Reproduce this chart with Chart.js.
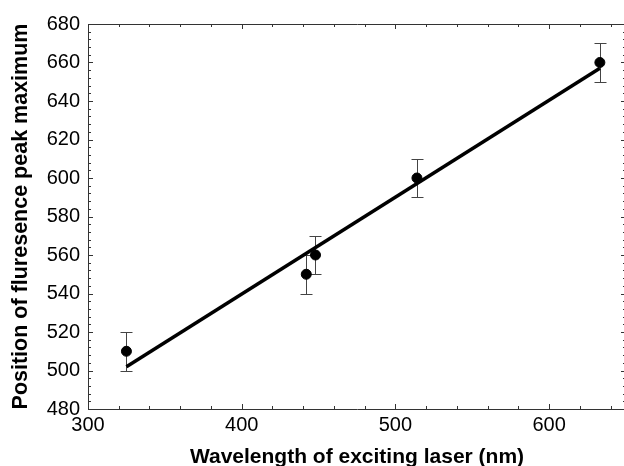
<!DOCTYPE html>
<html>
<head>
<meta charset="utf-8">
<script src="https://cdn.jsdelivr.net/npm/chart.js@4.4.1/dist/chart.umd.min.js"></script>
<style>
html,body{margin:0;padding:0;background:#fff;overflow:hidden;}
#wrap{width:640px;height:466px;}
</style>
</head>
<body>
<div id="wrap"><canvas id="c" width="640" height="466"></canvas></div>
<script>
// ---- data ----
const laserWavelength = [325, 442, 448, 514, 633];
const peakPosition    = [510, 550, 560, 600, 660];
const peakError       = [10, 10, 10, 10, 10];
const fitWavelength   = [325, 633];
const fitPeak         = [502, 657];
const xTickLabels     = [300, 400, 500, 600];
const yTickLabels     = [480, 500, 520, 540, 560, 580, 600, 620, 640, 660, 680];
const xMinorStep = 20;
const yMinorStep = 4;

const FONT = "'Liberation Sans', Arial, sans-serif";

const framePlugin = {
  id: 'frame',
  beforeDatasetsDraw(chart) {
    const {ctx, chartArea: a, scales: {x, y}} = chart;
    ctx.save();
    ctx.strokeStyle = '#333';
    ctx.lineWidth = 1;
    ctx.beginPath();
    ctx.rect(Math.round(a.left) + 0.5, Math.round(a.top) + 0.5, Math.round(a.right - a.left), Math.round(a.bottom - a.top));
    ctx.stroke();
    ctx.beginPath();
    for (let v = x.min; v <= x.max + 1e-9; v += xMinorStep) {
      const px = Math.round(x.getPixelForValue(v)) + 0.5;
      const len = (v % 100 === 0) ? 5 : 3;
      ctx.moveTo(px, a.bottom); ctx.lineTo(px, a.bottom - len);
      ctx.moveTo(px, a.top); ctx.lineTo(px, a.top + len);
    }
    for (let v = y.min; v <= y.max + 1e-9; v += yMinorStep) {
      const py = Math.round(y.getPixelForValue(v)) + 0.5;
      const len = (v % 20 === 0) ? 5 : 3;
      ctx.moveTo(a.left, py); ctx.lineTo(a.left + len, py);
      ctx.moveTo(a.right, py); ctx.lineTo(a.right - len, py);
    }
    ctx.stroke();
    // error bars
    ctx.strokeStyle = '#444';
    ctx.lineWidth = 1;
    ctx.beginPath();
    laserWavelength.forEach((w, i) => {
      const px = Math.round(x.getPixelForValue(w)) + 0.5;
      const yt = Math.round(y.getPixelForValue(peakPosition[i] + peakError[i])) + 0.5;
      const yb = Math.round(y.getPixelForValue(peakPosition[i] - peakError[i])) + 0.5;
      ctx.moveTo(px, yt); ctx.lineTo(px, yb);
      ctx.moveTo(px - 6, yt); ctx.lineTo(px + 6, yt);
      ctx.moveTo(px - 6, yb); ctx.lineTo(px + 6, yb);
    });
    ctx.stroke();
    ctx.restore();
  }
};

new Chart(document.getElementById('c'), {
  type: 'scatter',
  data: {
    datasets: [
      {
        label: 'fit',
        type: 'line',
        data: fitWavelength.map((w, i) => ({x: w, y: fitPeak[i]})),
        borderColor: '#000',
        borderWidth: 3.5,
        pointRadius: 0,
        fill: false,
        order: 2
      },
      {
        label: 'peak',
        data: laserWavelength.map((w, i) => ({x: w, y: peakPosition[i]})),
        backgroundColor: '#000',
        borderColor: '#000',
        pointRadius: 5,
        order: 1
      }
    ]
  },
  options: {
    responsive: false,
    devicePixelRatio: 1,
    animation: false,
    layout: {padding: {left: 0, right: 14, top: 24, bottom: 0}},
    plugins: {legend: {display: false}, tooltip: {enabled: false}},
    scales: {
      x: {
        type: 'linear', min: 300, max: 650,
        grid: {display: false, drawTicks: false}, border: {display: false},
        afterBuildTicks: s => { s.ticks = xTickLabels.map(v => ({value: v})); },
        afterFit: s => { s.height = 57; },
        ticks: {padding: 4, color: '#000', maxRotation: 0, autoSkip: false, font: {family: FONT, size: 20}},
        title: {display: true, text: 'Wavelength of exciting laser (nm)', color: '#000',
                font: {family: FONT, size: 21, weight: 'bold'}, padding: {top: 0, bottom: -4}}
      },
      y: {
        type: 'linear', min: 480, max: 680,
        grid: {display: false, drawTicks: false}, border: {display: false},
        afterBuildTicks: s => { s.ticks = yTickLabels.map(v => ({value: v})); },
        afterFit: s => { s.width = 88; },
        ticks: {padding: 8, color: '#000', autoSkip: false, font: {family: FONT, size: 20}},
        title: {display: true, text: 'Position of fluresence peak maximum', color: '#000',
                font: {family: FONT, size: 21.5, weight: 'bold'}, padding: {top: 8, bottom: 0}}
      }
    }
  },
  plugins: [framePlugin]
});
</script>
</body>
</html>
